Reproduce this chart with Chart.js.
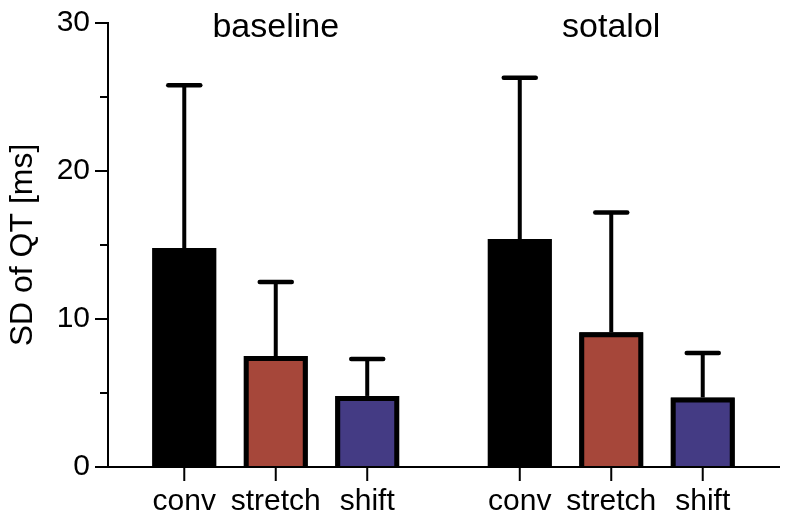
<!DOCTYPE html>
<html>
<head>
<meta charset="utf-8">
<script src="https://cdn.jsdelivr.net/npm/chart.js@4/dist/chart.umd.min.js"></script>
<style>
  html, body { margin: 0; padding: 0; background: #fff; }
  canvas { display: block; }
</style>
</head>
<body>
<canvas id="c" width="788" height="518"></canvas>
<script>
// ---- data ----
const groups = ['baseline', 'sotalol'];
const seriesNames = ['conv', 'stretch', 'shift'];
const convMean = [14.8, 15.4];
const convSD = [11.0, 10.9];
const stretchMean = [7.5, 9.1];
const stretchSD = [5.0, 8.1];
const shiftMean = [4.8, 4.7];
const shiftSD = [2.5, 3.0];
const yTicks = [0, 10, 20, 30];
const yMinorTicks = [5, 15, 25];
const yTitle = 'SD of QT [ms]';

const means = [convMean, stretchMean, shiftMean];
const sds = [convSD, stretchSD, shiftSD];
const fills = ['#000000', '#a6473a', '#443b84'];
const FONT = "'Liberation Sans', Arial, sans-serif";
const BORDER = 4;

const errorBars = {
  id: 'errorBars',
  afterDatasetsDraw(chart) {
    const ctx = chart.ctx;
    const y = chart.scales.y;
    ctx.save();
    ctx.strokeStyle = '#000';
    chart.data.datasets.forEach((ds, d) => {
      const meta = chart.getDatasetMeta(d);
      meta.data.forEach((bar, i) => {
        // crisp outline over the library's bar border (hides the anti-alias seam)
        const { x, y: top, base, width } = bar.getProps(['x', 'y', 'base', 'width'], true);
        const lw = BORDER + 1;
        const l = x - width / 2 + lw / 2;
        const r = x + width / 2 - lw / 2;
        const t = top + lw / 2;
        ctx.lineWidth = lw;
        ctx.lineCap = 'butt';
        ctx.lineJoin = 'miter';
        ctx.beginPath();
        ctx.moveTo(l, base);
        ctx.lineTo(l, t);
        ctx.lineTo(r, t);
        ctx.lineTo(r, base);
        ctx.stroke();
        // error bar
        const hi = y.getPixelForValue(means[d][i] + sds[d][i]);
        ctx.lineWidth = 4;
        ctx.beginPath();
        ctx.moveTo(x, top);
        ctx.lineTo(x, hi);
        ctx.stroke();
        ctx.lineWidth = 4.5;
        ctx.lineCap = 'round';
        ctx.beginPath();
        ctx.moveTo(x - 16, hi);
        ctx.lineTo(x + 16, hi);
        ctx.stroke();
      });
    });
    ctx.restore();
  }
};

const labelsPlugin = {
  id: 'labelsPlugin',
  afterDraw(chart) {
    const ctx = chart.ctx;
    const xs = chart.scales.x;
    const ys = chart.scales.y;
    const bottom = chart.chartArea.bottom;
    const left = chart.chartArea.left;
    ctx.save();
    ctx.fillStyle = '#000';
    ctx.strokeStyle = '#000';
    ctx.textAlign = 'center';
    ctx.textBaseline = 'alphabetic';
    // minor y ticks (shorter)
    ctx.lineWidth = 2;
    yMinorTicks.forEach((v) => {
      const py = Math.round(ys.getPixelForValue(v));
      ctx.beginPath();
      ctx.moveTo(left - 8, py);
      ctx.lineTo(left, py);
      ctx.stroke();
    });
    // per-bar ticks and names
    chart.data.datasets.forEach((ds, d) => {
      const meta = chart.getDatasetMeta(d);
      meta.data.forEach((bar) => {
        ctx.lineWidth = 2;
        ctx.beginPath();
        ctx.moveTo(bar.x, bottom);
        ctx.lineTo(bar.x, bottom + 14);
        ctx.stroke();
        ctx.font = '30px ' + FONT;
        ctx.fillText(seriesNames[d], bar.x, bottom + 43);
      });
    });
    // group names
    ctx.font = '34px ' + FONT;
    groups.forEach((g, i) => {
      ctx.fillText(g, xs.getPixelForValue(i), 37);
    });
    ctx.restore();
  }
};

new Chart(document.getElementById('c'), {
  type: 'bar',
  data: {
    labels: groups,
    datasets: seriesNames.map((name, d) => ({
      label: name,
      data: means[d],
      backgroundColor: fills[d],
      borderColor: '#000',
      borderWidth: BORDER,
      borderSkipped: 'bottom'
    }))
  },
  options: {
    responsive: false,
    animation: false,
    devicePixelRatio: 1,
    layout: { padding: { top: 20, right: 9, left: 0, bottom: 0 } },
    categoryPercentage: 0.818,
    barPercentage: 0.7,
    plugins: { legend: { display: false }, tooltip: { enabled: false } },
    scales: {
      x: {
        type: 'category',
        grid: { display: false },
        border: { display: true, color: '#000', width: 2 },
        ticks: { display: false },
        afterFit: (s) => { s.height = 51; }
      },
      y: {
        min: 0,
        max: 30,
        afterBuildTicks: (s) => {
          s.ticks = yTicks.map((v) => ({ value: v }));
        },
        grid: {
          display: true,
          drawOnChartArea: false,
          drawTicks: true,
          tickLength: 13,
          color: '#000',
          lineWidth: 2
        },
        border: { display: true, color: '#000', width: 2 },
        ticks: {
          padding: 5,
          color: '#000',
          font: { family: FONT, size: 30 },
          callback: (v) => String(v)
        },
        title: {
          display: true,
          text: yTitle,
          color: '#000',
          font: { family: FONT, size: 32 },
          padding: { top: 4, bottom: 0 }
        },
        afterFit: (s) => { s.width = 108; }
      }
    }
  },
  plugins: [errorBars, labelsPlugin]
});
</script>
</body>
</html>
